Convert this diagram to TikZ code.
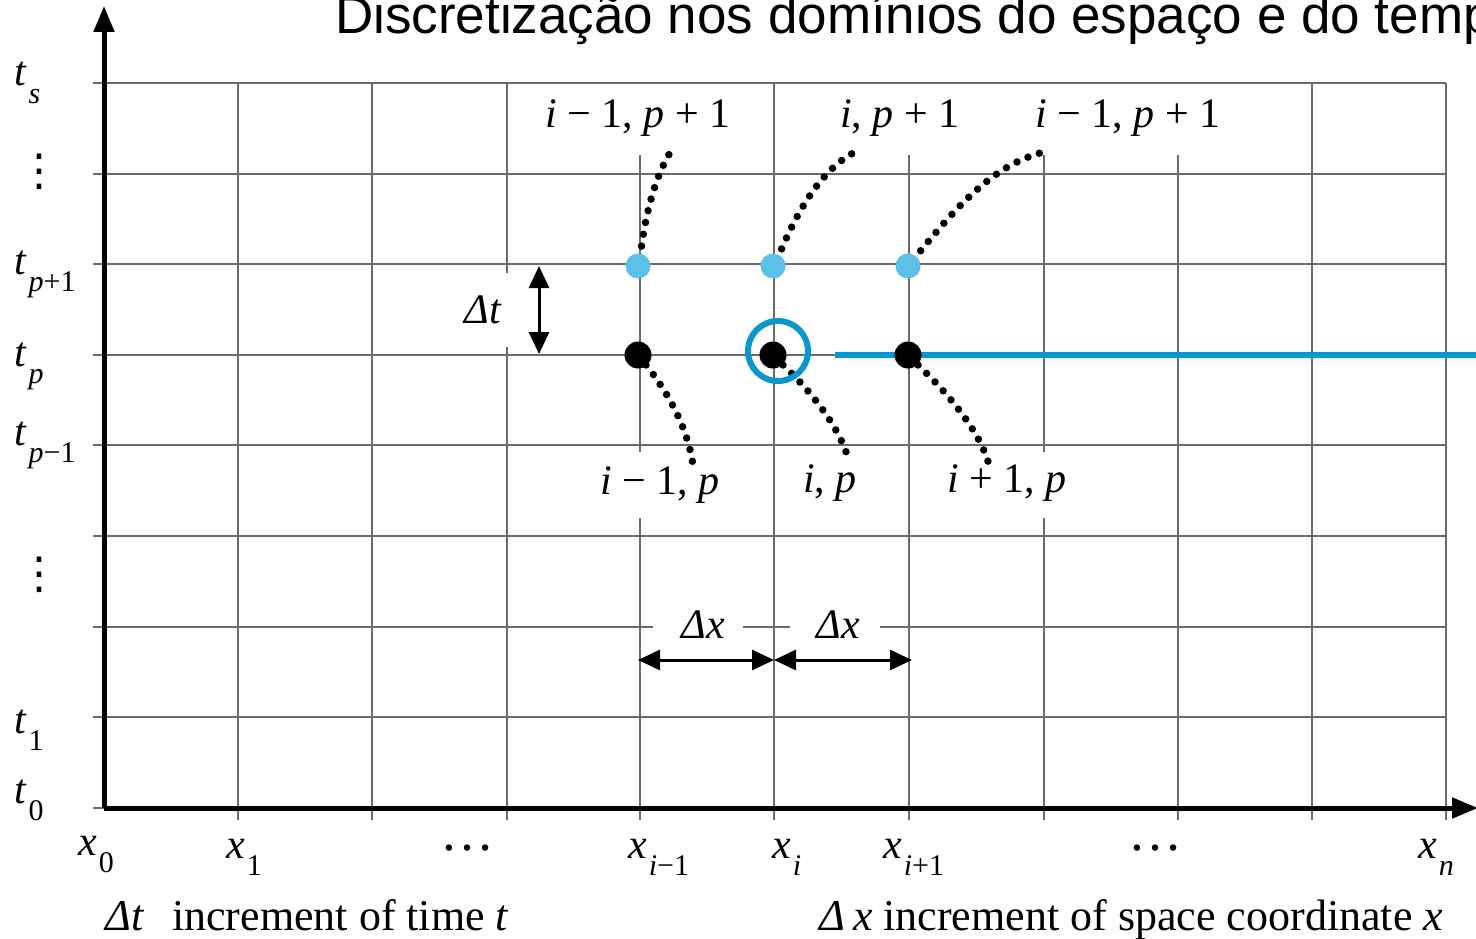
\documentclass[tikz,border=0pt]{standalone}
\usepackage{fontspec}
\setmainfont{Liberation Serif}
\newfontfamily\titlefont{Liberation Sans}
\newfontfamily\symfont{DejaVu Sans}
\usetikzlibrary{arrows.meta}
\definecolor{gridgray}{HTML}{6A6A6A}
\definecolor{lblue}{HTML}{5CC0E8}
\definecolor{dblue}{HTML}{0A98CC}
\newcommand{\mylab}[2]{\textit{#1}\kern2pt\raisebox{-0.42em}{\fontsize{30}{32}\selectfont #2}}
\begin{document}
\begin{tikzpicture}[x=1pt,y=-1pt,
  gridline/.style={draw=gridgray,line width=2pt},
  axisline/.style={draw=black,line width=5pt,line join=miter,-{Triangle[length=26pt,width=20pt]}},
  dimarrow/.style={draw=black,line width=3pt,{Triangle[length=22pt,width=20pt]}-{Triangle[length=22pt,width=20pt]}},
  bluedot/.style={circle,fill=lblue,minimum size=25pt,inner sep=0pt},
  blackdot/.style={circle,fill=black,minimum size=27pt,inner sep=0pt},
  bluering/.style={circle,draw=dblue,line width=6pt,minimum size=60pt,inner sep=0pt},
  blueline/.style={draw=dblue,line width=6pt},
  dotcurve/.style={line width=7.5pt,line cap=round,dash pattern=on 0pt off 12pt},
  lbl/.style={font=\fontsize{42}{50}\selectfont,inner sep=0pt},
  blbl/.style={font=\fontsize{44}{52}\selectfont,inner sep=0pt,anchor=base west},
]
\useasboundingbox (0,0) rectangle (1476,939);
\fill[white] (0,0) rectangle (1476,939);
% title (clipped at top, as in the reference)
\node[anchor=base west,inner sep=0pt,font=\titlefont\fontsize{53}{60}\selectfont] (title) at (335,34) {Discretização nos domínios do espaço e do temp};
% horizontal grid lines
\foreach \y in {83,173.6,264.2,354.8,445.4,536,717.2}
  \draw[gridline] (93,\y) -- (1446,\y);
\draw[gridline] (93,626.6) -- (653,626.6);
\draw[gridline] (743,626.6) -- (790,626.6);
\draw[gridline] (880,626.6) -- (1446,626.6);
% vertical grid lines
\foreach \x in {238,372,774,1312,1446}
  \draw[gridline] (\x,83) -- (\x,820);
\draw[gridline] (507,83) -- (507,273);
\draw[gridline] (507,347) -- (507,820);
\draw[gridline] (640,155) -- (640,452);
\draw[gridline] (640,518) -- (640,820);
\draw[gridline] (909,155) -- (909,820);
\draw[gridline] (1044,155) -- (1044,452);
\draw[gridline] (1044,518) -- (1044,820);
\draw[gridline] (1178,155) -- (1178,820);
\draw[gridline] (93,808) -- (104,808);
% axes
\coordinate (ytop) at (104,6);
\coordinate (origin) at (104,808);
\coordinate (xend) at (1478,808);
\draw[axisline] (origin) -- (ytop);
\draw[axisline] (origin) -- (xend);
% blue line
\coordinate (bstart) at (835,355);
\coordinate (bend) at (1476,355);
\draw[blueline] (bstart) -- (bend);
% dot positions
\coordinate (pu1) at (638,266);
\coordinate (pu2) at (773,266);
\coordinate (pu3) at (908,266);
\coordinate (pd1) at (638,355);
\coordinate (pd2) at (773,355);
\coordinate (pd3) at (908,355);
% dotted curves
\coordinate (ue1) at (673,148);
\coordinate (ue2) at (855,152);
\coordinate (ue3) at (1044,152);
\coordinate (de1) at (693,465);
\coordinate (de2) at (848,458);
\coordinate (de3) at (990,470);
\draw[dotcurve] ([shift={(2,-8)}]pu1) .. controls (645,215) and (655,175) .. (ue1);
\draw[dotcurve] ([shift={(4,-6)}]pu2) .. controls (795,215) and (820,170) .. (ue2);
\draw[dotcurve] ([shift={(5,-6)}]pu3) .. controls (950,215) and (990,165) .. (ue3);
\draw[dotcurve] ([shift={(8,10)}]pd1) .. controls (670,395) and (688,430) .. (de1);
\draw[dotcurve] ([shift={(10,10)}]pd2) .. controls (815,395) and (840,430) .. (de2);
\draw[dotcurve] ([shift={(10,10)}]pd3) .. controls (955,400) and (985,440) .. (de3);
% dots
\node[bluedot] (u1) at (pu1) {};
\node[bluedot] (u2) at (pu2) {};
\node[bluedot] (u3) at (pu3) {};
\node[blackdot] (d1) at (pd1) {};
\node[blackdot] (d2) at (pd2) {};
\node[blackdot] (d3) at (pd3) {};
\node[bluering] (ring) at (778,351) {};
% dimension arrows
\coordinate (dta) at (539,266);
\coordinate (dtb) at (539,354);
\draw[dimarrow] (dta) -- (dtb);
\coordinate (dxa) at (638,660);
\coordinate (dxb) at (774,660);
\coordinate (dxc) at (912,660);
\draw[dimarrow] (dxa) -- (dxb);
\draw[dimarrow] (dxb) -- (dxc);
\node[lbl] (dtl) at (483,310) {\textit{Δt}};
\node[lbl] (dxl1) at (703,625) {\textit{Δx}};
\node[lbl] (dxl2) at (838,625) {\textit{Δx}};
% point labels
\node[lbl] (lu1) at (638,118) {\textit{i} − 1, \textit{p} + 1};
\node[lbl] (lu2) at (900,118) {\textit{i}, \textit{p} + 1};
\node[lbl] (lu3) at (1128,118) {\textit{i} − 1, \textit{p} + 1};
\node[lbl] (ld1) at (660,485) {\textit{i} − 1, \textit{p}};
\node[lbl] (ld2) at (830,483) {\textit{i}, \textit{p}};
\node[lbl] (ld3) at (1007,483) {\textit{i} + 1, \textit{p}};
% t labels
\node[lbl,anchor=base west] (ts) at (14,86) {\mylab{t}{\textit{s}}};
\node[lbl,font=\symfont\fontsize{44}{48}\selectfont] (vd1) at (39,172) {⋮};
\node[lbl,anchor=base west] (tp1) at (14,274) {\mylab{t}{\textit{p}+1}};
\node[lbl,anchor=base west] (tp) at (14,366) {\mylab{t}{\textit{p}}};
\node[lbl,anchor=base west] (tpm) at (14,445) {\mylab{t}{\textit{p}−1}};
\node[lbl,font=\symfont\fontsize{44}{48}\selectfont] (vd2) at (39,575) {⋮};
\node[lbl,anchor=base west] (t1) at (14,733) {\mylab{t}{1}};
\node[lbl,anchor=base west] (t0) at (14,803) {\mylab{t}{0}};
% x labels
\node[lbl,anchor=base west] (x0) at (78,855) {\mylab{x}{0}};
\node[lbl,anchor=base west] (x1) at (226,858) {\mylab{x}{1}};
\node[lbl,font=\fontsize{54}{60}\selectfont] (xd1) at (467,848) {…};
\node[lbl,anchor=base west] (xim) at (628,858) {\mylab{x}{\textit{i}−1}};
\node[lbl,anchor=base west] (xi) at (772,858) {\mylab{x}{\textit{i}}};
\node[lbl,anchor=base west] (xip) at (883,858) {\mylab{x}{\textit{i}+1}};
\node[lbl,font=\fontsize{54}{60}\selectfont] (xd2) at (1155,848) {…};
\node[lbl,anchor=base west] (xn) at (1418,858) {\mylab{x}{\textit{n}}};
% bottom captions
\node[blbl] (cap1) at (105,930) {\textit{Δt}\hspace{28pt}increment of time \textit{t}};
\node[blbl] (cap2) at (819,930) {\textit{Δ}\hspace{8pt}\textit{x} increment of space coordinate \textit{x}};
\end{tikzpicture}
\end{document}
